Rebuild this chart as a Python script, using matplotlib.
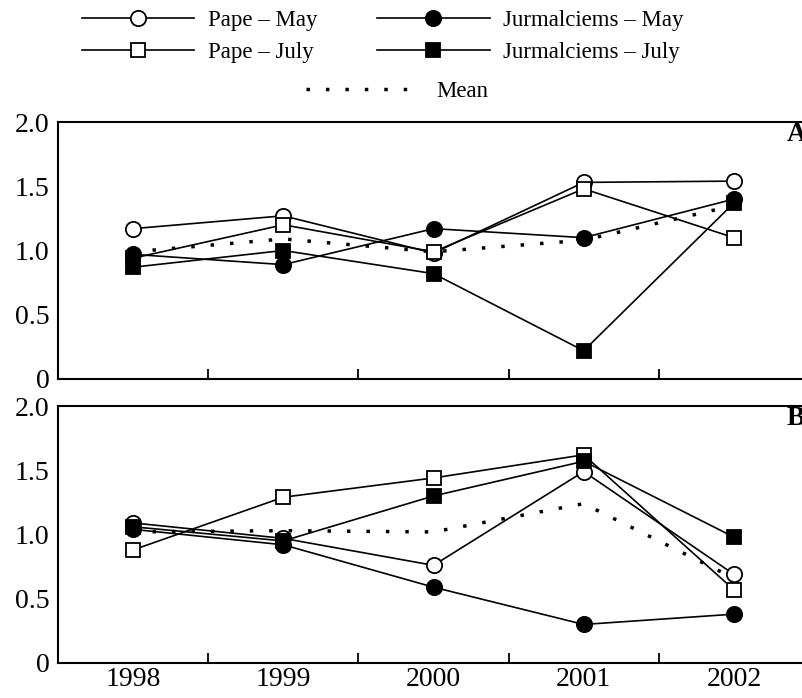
import matplotlib
matplotlib.use("Agg")
import matplotlib.pyplot as plt
from matplotlib.lines import Line2D
from matplotlib.ticker import FixedLocator

plt.rcParams["font.family"] = ["Liberation Serif", "DejaVu Serif"]

# Data
years = [1998, 1999, 2000, 2001, 2002]

# Panel A
a_pape_may = [1.17, 1.27, 0.98, 1.53, 1.54]
a_pape_july = [0.94, 1.20, 0.99, 1.48, 1.10]
a_jurm_may = [0.97, 0.89, 1.17, 1.10, 1.40]
a_jurm_july = [0.87, 1.00, 0.82, 0.22, 1.37]
a_mean = [0.99, 1.09, 0.99, 1.08, 1.35]

# Panel B
b_pape_may = [1.09, 0.97, 0.76, 1.49, 0.69]
b_pape_july = [0.88, 1.29, 1.44, 1.62, 0.57]
b_jurm_may = [1.04, 0.92, 0.59, 0.30, 0.38]
b_jurm_july = [1.06, 0.95, 1.30, 1.57, 0.98]
b_mean = [1.02, 1.03, 1.02, 1.24, 0.66]

yticks = [0, 0.5, 1.0, 1.5, 2.0]
ytick_labels = ["0", "0.5", "1.0", "1.5", "2.0"]
names = ["Pape – May", "Pape – July", "Jurmalciems – May", "Jurmalciems – July"]

W, H = 802, 698
fig = plt.figure(figsize=(W / 100, H / 100), dpi=100)

# right spine falls just outside the picture, as in the original crop
left, right = 58, 809
axA = fig.add_axes([left / W, 1 - 379 / H, (right - left) / W, (379 - 122) / H])
axB = fig.add_axes([left / W, 1 - 663 / H, (right - left) / W, (663 - 406) / H])

lw = 1.2
mean_ls = (0, (1, 4.6))
styles = [
    dict(marker="o", mfc="white", ms=11),
    dict(marker="s", mfc="white", ms=10.5),
    dict(marker="o", mfc="black", ms=11),
    dict(marker="s", mfc="black", ms=10.5),
]


def draw_panel(ax, series, mean, letter):
    ax.plot(years, mean, color="black", lw=2.5, linestyle=mean_ls,
            dash_capstyle="butt", zorder=1)
    for i, (vals, st) in enumerate(zip(series, styles)):
        ax.plot(years, vals, color="black", lw=lw, mec="black", mew=1.3,
                zorder=2 + i, **st)
    ax.set_xlim(1997.5, 2002.5)
    ax.set_ylim(0, 2.0)
    ax.set_yticks(yticks)
    ax.set_yticklabels(ytick_labels, fontsize=20)
    ax.tick_params(axis="y", length=0, pad=6)
    ax.set_xticks(years)
    ax.xaxis.set_minor_locator(FixedLocator([1998.5, 1999.5, 2000.5, 2001.5]))
    ax.tick_params(axis="x", which="major", length=0, labelsize=20, pad=3)
    ax.tick_params(axis="x", which="minor", direction="in", length=7, width=1.3)
    for sp in ax.spines.values():
        sp.set_linewidth(1.5)
    ax.spines["right"].set_visible(False)
    ax.text(2002.35, 1.9, letter, fontsize=20, fontweight="bold", va="center", ha="left")


draw_panel(axA, [a_pape_may, a_pape_july, a_jurm_may, a_jurm_july], a_mean, "A")
draw_panel(axB, [b_pape_may, b_pape_july, b_jurm_may, b_jurm_july], b_mean, "B")
axA.set_xticklabels([])
axB.set_xticklabels([str(y) for y in years])

# Legend: two columns of series, mean on its own row below
handles = [Line2D([], [], color="black", lw=lw, mec="black", mew=1.3, **st) for st in styles]
fig.legend(handles, names, ncol=2, loc="upper left",
           bbox_to_anchor=(73 / W, 1 - 1 / H), frameon=False, fontsize=16.5,
           handlelength=4.9, handletextpad=0.6, columnspacing=2.6,
           labelspacing=0.45, borderaxespad=0.0)
mean_handle = Line2D([], [], color="black", lw=2.5, linestyle=mean_ls,
                     dash_capstyle="butt")
fig.legend([mean_handle], ["Mean"], loc="upper left",
           bbox_to_anchor=(297 / W, 1 - 72 / H), frameon=False, fontsize=16.5,
           handlelength=4.9, handletextpad=0.8, borderaxespad=0.0)

fig.savefig("out.png", dpi=100)
